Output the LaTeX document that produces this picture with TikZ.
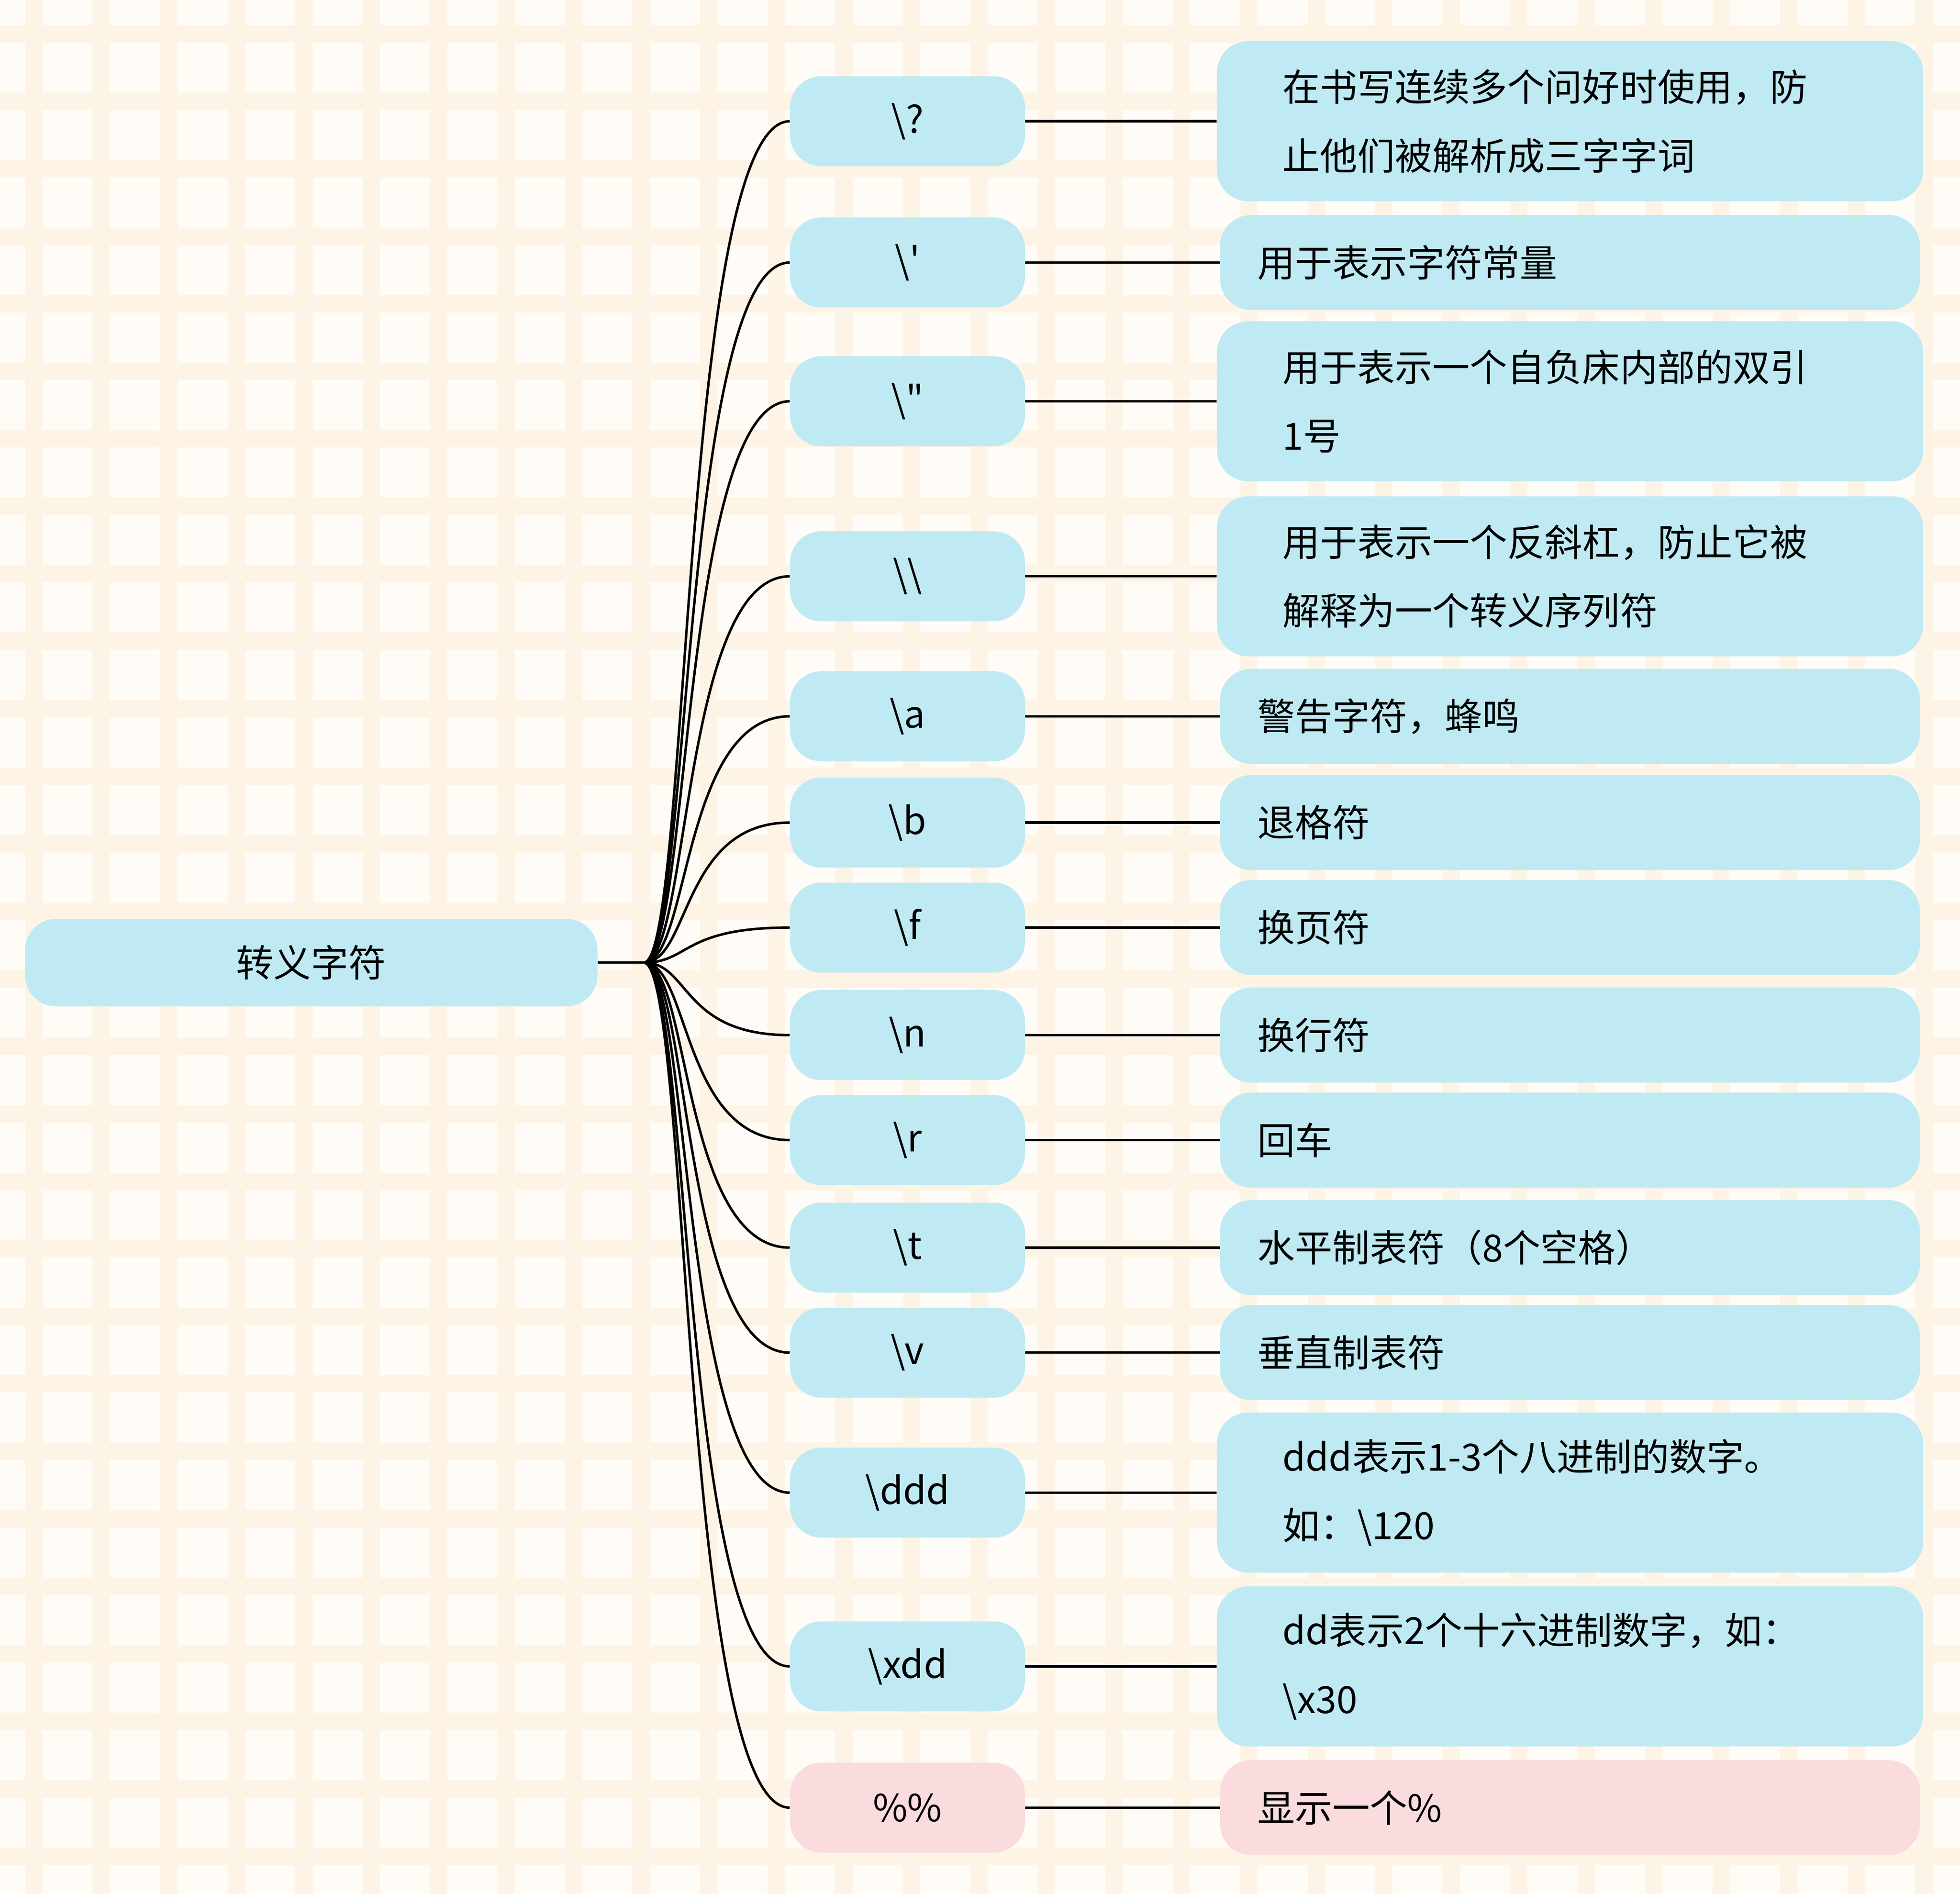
\documentclass[tikz,border=0pt]{standalone}
\usepackage{fontspec}
\setmainfont{Noto Sans CJK SC}[Ligatures=TeXOff]
\definecolor{boxc}{HTML}{BFEAF3}
\definecolor{pinkc}{HTML}{FADCDF}
\definecolor{bgc}{HTML}{FFFCF7}
\definecolor{gridc}{HTML}{FEF4E6}
\begin{document}
\begin{tikzpicture}[x=1pt,y=-1pt,
  base/.style={fill=boxc,rounded corners=25pt,font=\fontsize{30}{55}\selectfont,inner sep=0pt},
  rootbox/.style={base,minimum width=458pt,minimum height=70pt},
  midbox/.style={base,minimum width=188pt,minimum height=72pt},
  leafone/.style={base,minimum width=560pt,minimum height=76pt,text width=500pt,align=left},
  leaftwo/.style={base,minimum width=565pt,minimum height=128pt,text width=460pt,align=left},
  conn/.style={draw=black,line width=2pt}]
\useasboundingbox (0,0) rectangle (1568,1515);
\fill[bgc] (0,0) rectangle (1568,1515);
\foreach \i in {0,...,29} {
  \fill[gridc] (\i*54+20,0) rectangle (\i*54+34,1515);
  \fill[gridc] (0,\i*54+20) rectangle (1568,\i*54+34);
}
\node[rootbox] (root) at (249,770) {转义字符};
\coordinate (hub) at (515,770);
\draw[conn] (root.east) -- (hub);
\foreach \n/\y/\m/\l/\k/\c in {
 a/97/{\textbackslash?}/{在书写连续多个问好时使用，防\\止他们被解析成三字字词}/leaftwo/boxc,
 b/210/{\textbackslash\symbol{39}}/{用于表示字符常量}/leafone/boxc,
 c/321/{\textbackslash\symbol{34}}/{用于表示一个自负床内部的双引\\1号}/leaftwo/boxc,
 d/461/{\textbackslash\textbackslash}/{用于表示一个反斜杠，防止它被\\解释为一个转义序列符}/leaftwo/boxc,
 e/573/{\textbackslash a}/{警告字符，蜂鸣}/leafone/boxc,
 f/658/{\textbackslash b}/{退格符}/leafone/boxc,
 g/742/{\textbackslash f}/{换页符}/leafone/boxc,
 h/828/{\textbackslash n}/{换行符}/leafone/boxc,
 i/912/{\textbackslash r}/{回车}/leafone/boxc,
 j/998/{\textbackslash t}/{水平制表符（8个空格）}/leafone/boxc,
 k/1082/{\textbackslash v}/{垂直制表符}/leafone/boxc,
 l/1194/{\textbackslash ddd}/{ddd表示1-3个八进制的数字。\\如：\textbackslash 120}/leaftwo/boxc,
 m/1333/{\textbackslash xdd}/{dd表示2个十六进制数字，如：\\\textbackslash x30}/leaftwo/boxc,
 n/1446/{\%\%}/{显示一个\%}/leafone/pinkc} {
  \node[midbox,fill=\c] (m\n) at (726,\y) {\m};
  \node[\k,fill=\c] (l\n) at (1256,\y) {\l};
  \draw[conn] (hub) .. controls (552,770) and (545,\y) .. (m\n.west);
  \draw[conn] (m\n.east) -- (l\n.west);
}
\end{tikzpicture}
\end{document}
